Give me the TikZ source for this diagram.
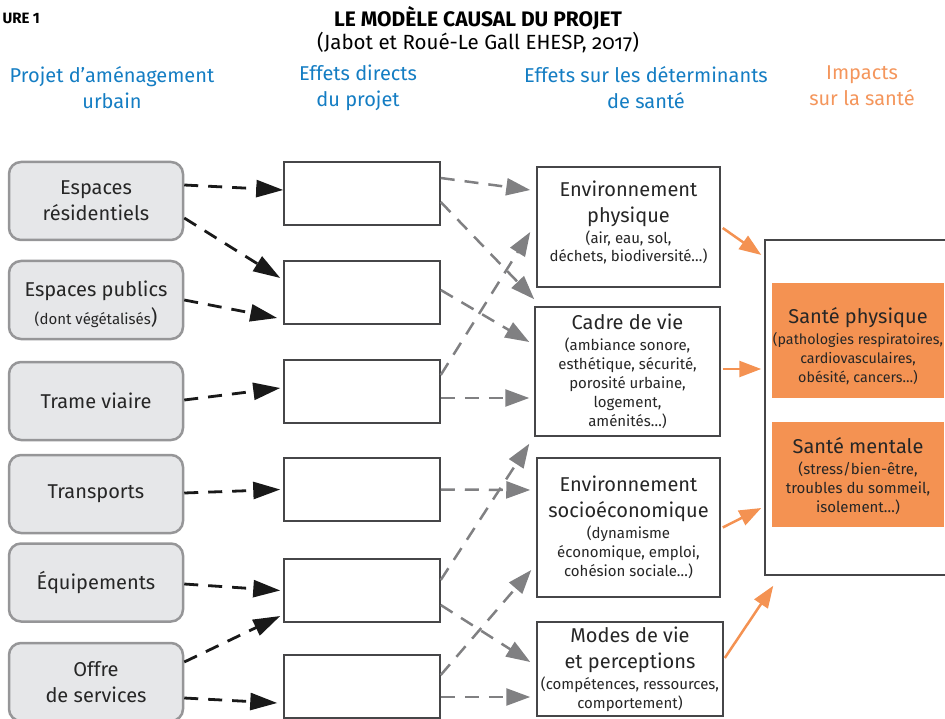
\documentclass[tikz,border=0pt]{standalone}
\usepackage{fontspec}
\setmainfont{Fira Sans}
\usetikzlibrary{arrows.meta,calc}
\definecolor{hblue}{RGB}{20,125,195}
\definecolor{horange}{RGB}{244,150,92}
\definecolor{ofill}{RGB}{244,146,82}
\definecolor{lfill}{RGB}{230,231,233}
\definecolor{lgray}{RGB}{150,150,152}
\definecolor{dgray}{RGB}{70,70,72}
\definecolor{agray}{RGB}{128,128,130}
\definecolor{ablack}{RGB}{25,25,25}
\newcommand\bigf{\fontsize{20}{26}\selectfont}
\newcommand\smf{\fontsize{15}{18.5}\selectfont}
\newcommand\smff{\fontsize{14.3}{18.5}\selectfont}
\begin{document}
\begin{tikzpicture}[x=1pt,y=-1pt,
  lbox/.style={draw=lgray, fill=lfill, line width=2.5pt, rounded corners=12pt, minimum width=174pt, minimum height=78pt, align=center, inner sep=0pt, font=\bigf, text=black!85},
  mbox/.style={draw=dgray, fill=white, line width=1.5pt, minimum width=156pt, minimum height=63pt, inner sep=0pt},
  dbox/.style={draw=dgray, fill=white, line width=1.5pt, align=center, inner sep=0pt, font=\bigf, text=black!85},
  sbox/.style={fill=ofill, align=center, inner sep=0pt, minimum width=172pt, font=\bigf, text=black!85},
  head/.style={align=center, font=\bigf, text=hblue},
  blk/.style={draw=ablack, line width=2.8pt, dash pattern=on 14pt off 10pt, -{Triangle[length=27pt,width=17pt]}},
  gry/.style={draw=agray, line width=2.5pt, dash pattern=on 14pt off 10pt, -{Triangle[length=24pt,width=17pt]}},
  org/.style={draw=ofill, line width=2.5pt, -{Triangle[length=22pt,width=16pt]}}
]
\useasboundingbox (0,0) rectangle (945,719);
% titles
\node[anchor=west, font=\bfseries\fontsize{15}{18}\selectfont] (fig) at (-1,18) {URE 1};
\node[font=\bfseries\fontsize{21}{23}\selectfont] (title) at (478,18) {LE MODÈLE CAUSAL DU PROJET};
\node[font=\fontsize{20.5}{22}\selectfont\addfontfeatures{Numbers=OldStyle}] (sub) at (478,43) {(Jabot et Roué-Le Gall EHESP, 2017)};
\node[head] (h1) at (112,88) {Projet d’aménagement\\urbain};
\node[head] (h2) at (358,88) {Effets directs\\du projet};
\node[head] (h3) at (646,88) {Effets sur les déterminants\\de santé};
\node[head, text=horange] (h4) at (862,86) {Impacts\\sur la santé};
% left boxes
\node[lbox] (L1) at (96,201) {Espaces\\résidentiels};
\node[lbox] (L2) at (96,300) {\rule{0pt}{25pt}Espaces publics\\[2pt]\smf (dont végétalisés\bigf)};
\node[lbox] (L3) at (96,401) {Trame viaire};
\node[lbox] (L4) at (96,494) {Transports};
\node[lbox] (L5) at (96,582.5) {Équipements};
\node[lbox] (L6) at (96,682) {Offre\\de services};
% middle boxes
\node[mbox] (M1) at (362,193.5) {};
\node[mbox] (M2) at (362,292.5) {};
\node[mbox] (M3) at (362,391.5) {};
\node[mbox] (M4) at (362,489.5) {};
\node[mbox] (M5) at (362,590.5) {};
\node[mbox] (M6) at (362,686.5) {};
% determinants
\node[dbox, minimum width=183pt, minimum height=120pt] (D1) at (628.5,227) {};
\node[align=center, font=\bigf, text=black!85, inner sep=0pt] (D1t) at (628.5,222) {Environnement\\physique\\[-5pt]\smf (air, eau, sol,\\[-8pt]\smf déchets, biodiversité…)};
\node[dbox, minimum width=185pt, minimum height=129pt] (D2) at (627.5,371.5) {Cadre de vie\\[-5pt]\smf (ambiance sonore,\\[-7pt]\smf esthétique, sécurité,\\[-7pt]\smf porosité urbaine,\\[-7pt]\smf logement,\\[-7pt]\smf aménités…)};
\node[dbox, minimum width=183pt, minimum height=139pt] (D3) at (628.5,527.5) {Environnement\\socioéconomique\\[-5pt]\smf (dynamisme\\[-7pt]\smf économique, emploi,\\[-7pt]\smf cohésion sociale…)};
\node[dbox, minimum width=186pt, minimum height=94pt] (D4) at (630,669) {Modes de vie\\et perceptions\\[-5pt]\smf (compétences, ressources,\\[-7pt]\smf comportement)};
% impacts
\node[draw=dgray, fill=white, line width=1.5pt, minimum width=195pt, minimum height=335pt, inner sep=0pt] (BIG) at (862.5,407.5) {};
\node[sbox, minimum height=115pt] (S1) at (858,340.5) {\rule{0pt}{27pt}Santé physique\\[-5pt]\smff (pathologies respiratoires,\\[-7pt]\smff cardiovasculaires,\\[-7pt]\smff obésité, cancers…)};
\node[sbox, minimum height=105pt] (S2) at (858,474.5) {\rule{0pt}{19pt}Santé mentale\\[-5pt]\smf (stress/bien-être,\\[-7pt]\smf troubles du sommeil,\\[-7pt]\smf isolement…)};
% black arrows
\draw[blk] ([yshift=16pt]L1.east) -- ([yshift=3.5pt]M1.west);
\draw[blk] ([yshift=-17pt]L1.east) -- ([yshift=14.5pt,xshift=-3pt]M2.west);
\draw[blk] (L2.east) -- ([yshift=-25.5pt,xshift=-6pt]M2.west);
\draw[blk] ([yshift=1pt]L3.east) -- ([yshift=3.5pt,xshift=-3pt]M3.west);
\draw[blk] ([yshift=1pt]L4.east) -- ([xshift=-3pt]M4.west);
\draw[blk] ([yshift=-1.5pt]L5.east) -- ([xshift=-3pt]M5.west);
\draw[blk] ([yshift=20pt]L6.east) -- ([yshift=-25.5pt,xshift=-3pt]M5.west);
\draw[blk] ([yshift=-16pt]L6.east) -- ([yshift=-16.5pt,xshift=-6pt]M6.west);
% gray arrows
\draw[gry] ([yshift=15.5pt]M1.east) -- ([yshift=37pt,xshift=-6pt]D1.west);
\draw[gry] ([yshift=-8.5pt]M1.east) -- ([yshift=7pt]D2.north west);
\draw[gry] ([yshift=2.5pt]M2.east) -- ([yshift=29.5pt,xshift=-5pt]D2.west);
\draw[gry] ([yshift=16.5pt]M3.east) -- ([yshift=-5pt,xshift=-6pt]D1.west);
\draw[gry] ([yshift=-6.5pt]M3.east) -- ([yshift=-26.5pt,xshift=-5pt]D2.west);
\draw[gry] (M4.east) -- ([yshift=37.5pt,xshift=-6pt]D3.west);
\draw[gry] ([yshift=10.5pt]M5.east) -- ([yshift=-7pt,xshift=-5pt]D2.south west);
\draw[gry] ([yshift=-14.5pt]M5.east) -- ([yshift=7pt,xshift=-6pt]D4.west);
\draw[gry] ([yshift=11.5pt]M6.east) -- ([yshift=-42.5pt,xshift=-5pt]D3.west);
\draw[gry] ([yshift=-10.5pt]M6.east) -- ([yshift=-28pt,xshift=-6pt]D4.west);
% orange arrows
\draw[org] ([yshift=-1pt,xshift=2pt]D1.east) -- ([yshift=152.5pt,xshift=-3pt]BIG.west);
\draw[org] ([yshift=2.5pt,xshift=2pt]D2.east) -- ([yshift=38.5pt,xshift=-3pt]BIG.west);
\draw[org] ([xshift=2pt]D3.east) -- ([yshift=-100.5pt,xshift=-3pt]BIG.west);
\draw[org] ([yshift=11pt,xshift=1pt]D4.east) -- ([xshift=9pt,yshift=-10pt]BIG.south west);
\end{tikzpicture}
\end{document}
